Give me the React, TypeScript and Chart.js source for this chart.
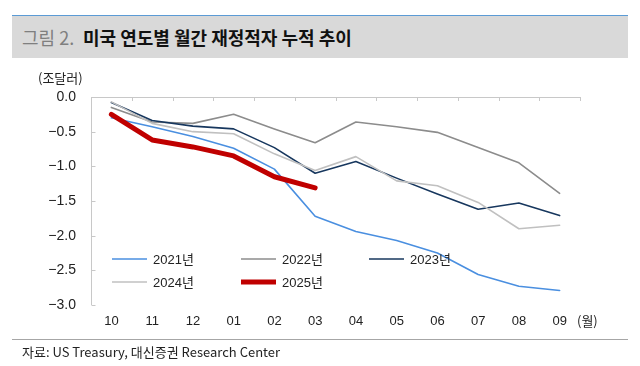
import React, { useEffect, useRef } from "react";
import { Chart, registerables } from "chart.js";

Chart.register(...registerables);

const months = ["10", "11", "12", "01", "02", "03", "04", "05", "06", "07", "08", "09"];
const seriesNames = ["2021년", "2022년", "2023년", "2024년", "2025년"];
const y2021 = [-0.3, -0.43, -0.57, -0.74, -1.04, -1.72, -1.94, -2.07, -2.25, -2.56, -2.73, -2.79];
const y2022 = [-0.15, -0.36, -0.38, -0.25, -0.46, -0.66, -0.36, -0.43, -0.51, -0.73, -0.95, -1.39];
const y2023 = [-0.08, -0.34, -0.42, -0.46, -0.73, -1.1, -0.93, -1.17, -1.4, -1.62, -1.53, -1.71];
const y2024 = [-0.07, -0.38, -0.5, -0.53, -0.82, -1.06, -0.86, -1.21, -1.28, -1.52, -1.9, -1.85];
const y2025 = [-0.25, -0.62, -0.72, -0.85, -1.15, -1.31];
const yTicks = [0, -0.5, -1, -1.5, -2, -2.5, -3];

const FONT = "'Liberation Sans', Arial, 'Noto Sans CJK KR', sans-serif";
const KFONT = "'Noto Sans CJK KR', 'Liberation Sans', sans-serif";
const AXIS = "#c8c8c8";

const legendSlots = [
  { x: 112, y: 259 },
  { x: 241, y: 259 },
  { x: 369, y: 259 },
  { x: 112, y: 282 },
  { x: 241, y: 282 },
];

const axisPlugin = {
  id: "axisDecor",
  afterDraw(chart: any) {
    const { ctx, chartArea } = chart;
    const xs = chart.scales.x;
    const ys = chart.scales.y;
    ctx.save();
    ctx.strokeStyle = AXIS;
    ctx.lineWidth = 1;
    // top category axis line
    ctx.beginPath();
    ctx.moveTo(chartArea.left, Math.round(chartArea.top) + 0.5);
    ctx.lineTo(chartArea.right, Math.round(chartArea.top) + 0.5);
    ctx.stroke();
    const step = xs.getPixelForTick(1) - xs.getPixelForTick(0);
    for (let i = 0; i <= months.length; i++) {
      const px = Math.round(xs.getPixelForTick(0) - step / 2 + i * step) + 0.5;
      ctx.beginPath();
      ctx.moveTo(px, chartArea.top);
      ctx.lineTo(px, chartArea.top + 4);
      ctx.stroke();
    }
    // left value axis ticks (inward)
    const lx = Math.round(chartArea.left) + 0.5;
    ctx.beginPath();
    ctx.moveTo(lx, chartArea.top);
    ctx.lineTo(lx, chartArea.bottom);
    ctx.stroke();
    for (const v of yTicks) {
      const py = Math.round(ys.getPixelForValue(v)) + 0.5;
      ctx.beginPath();
      ctx.moveTo(lx, py);
      ctx.lineTo(lx + 4, py);
      ctx.stroke();
    }
    ctx.restore();
  },
};

const legendPlugin = {
  id: "inlineLegend",
  afterDatasetsDraw(chart: any) {
    const { ctx } = chart;
    ctx.save();
    chart.data.datasets.forEach((ds: any, i: number) => {
      const s = legendSlots[i];
      if (!s) return;
      ctx.strokeStyle = ds.borderColor;
      ctx.lineWidth = ds.borderWidth;
      ctx.lineCap = "butt";
      ctx.beginPath();
      ctx.moveTo(s.x, s.y);
      ctx.lineTo(s.x + 35, s.y);
      ctx.stroke();
      ctx.fillStyle = "#222";
      ctx.font = `13px ${FONT}`;
      ctx.textBaseline = "middle";
      ctx.textAlign = "left";
      ctx.fillText(ds.label, s.x + 41, s.y + 1);
    });
    ctx.restore();
  },
};

export default function App() {
  const ref = useRef<HTMLCanvasElement>(null);
  useEffect(() => {
    if (!ref.current) return;
    const mk = (label: string, data: number[], color: string, width: number, order: number) => ({
      label,
      data,
      borderColor: color,
      backgroundColor: color,
      borderWidth: width,
      pointRadius: 0,
      tension: 0,
      fill: false,
      order,
      borderJoinStyle: "round" as const,
      borderCapStyle: "round" as const,
    });
    const chart = new Chart(ref.current, {
      type: "line",
      data: {
        labels: months,
        datasets: [
          mk(seriesNames[0], y2021, "#4a8fe0", 1.6, 5),
          mk(seriesNames[1], y2022, "#8c8c8c", 1.6, 4),
          mk(seriesNames[2], y2023, "#17375e", 1.6, 3),
          mk(seriesNames[3], y2024, "#c0c0c0", 1.6, 2),
          mk(seriesNames[4], y2025, "#c00000", 5, 1),
        ],
      },
      options: {
        animation: false,
        responsive: false,
        maintainAspectRatio: false,
        layout: { padding: { top: 97, left: 0, right: 60, bottom: 31 } },
        plugins: { legend: { display: false }, tooltip: { enabled: false }, title: { display: false } },
        scales: {
          x: {
            type: "category",
            offset: true,
            grid: { display: false, drawTicks: false },
            border: { display: false },
            ticks: { font: { family: FONT, size: 13 }, color: "#222", padding: 9, maxRotation: 0, autoSkip: false },
            afterFit: (s: any) => {
              s.height = 30;
            },
          },
          y: {
            min: -3,
            max: 0,
            grid: { display: false, drawTicks: false },
            border: { display: false },
            afterBuildTicks: (s: any) => {
              s.ticks = yTicks.map((v) => ({ value: v }));
            },
            ticks: {
              font: { family: FONT, size: 14 },
              color: "#222",
              padding: 15,
              callback: (v: any) => {
                const n = Number(v);
                const t = Math.abs(n).toFixed(1);
                return n < 0 ? "\u2212" + t : t;
              },
            },
            afterFit: (s: any) => {
              s.width = 91;
            },
          },
        },
      },
      plugins: [axisPlugin, legendPlugin],
    });
    return () => chart.destroy();
  }, []);

  return (
    <div style={{ position: "fixed", left: 0, top: 0, width: 640, height: 366, background: "#fff", overflow: "hidden" }}>
      <div style={{ position: "absolute", left: 12, top: 15, width: 616, height: 1, background: "#5b9bd5" }} />
      <div
        style={{
          position: "absolute",
          left: 12,
          top: 16,
          width: 616,
          height: 42,
          background: "#d9d9d9",
          display: "flex",
          alignItems: "center",
          fontFamily: KFONT,
          fontSize: 18,
          whiteSpace: "nowrap",
        }}
      >
        <span style={{ color: "#7f7f7f", marginLeft: 10, width: 61, display: "inline-block" }}>그림 2.</span>
        <span style={{ color: "#111", fontWeight: 700 }}>미국 연도별 월간 재정적자 누적 추이</span>
      </div>
      <canvas ref={ref} width={640} height={366} style={{ position: "absolute", left: 0, top: 0, width: 640, height: 366 }} />
      <div style={{ position: "absolute", left: 38, top: 70, fontFamily: KFONT, fontSize: 13, color: "#222", lineHeight: "16px" }}>(조달러)</div>
      <div style={{ position: "absolute", left: 577, top: 313, fontFamily: KFONT, fontSize: 13, color: "#222", lineHeight: "16px" }}>(월)</div>
      <div style={{ position: "absolute", left: 12, top: 339, width: 616, height: 1, background: "#a6a6a6" }} />
      <div style={{ position: "absolute", left: 22, top: 344, fontFamily: KFONT, fontSize: 13, color: "#222", lineHeight: "16px", whiteSpace: "nowrap" }}>
        자료: US Treasury, 대신증권 Research Center
      </div>
    </div>
  );
}
